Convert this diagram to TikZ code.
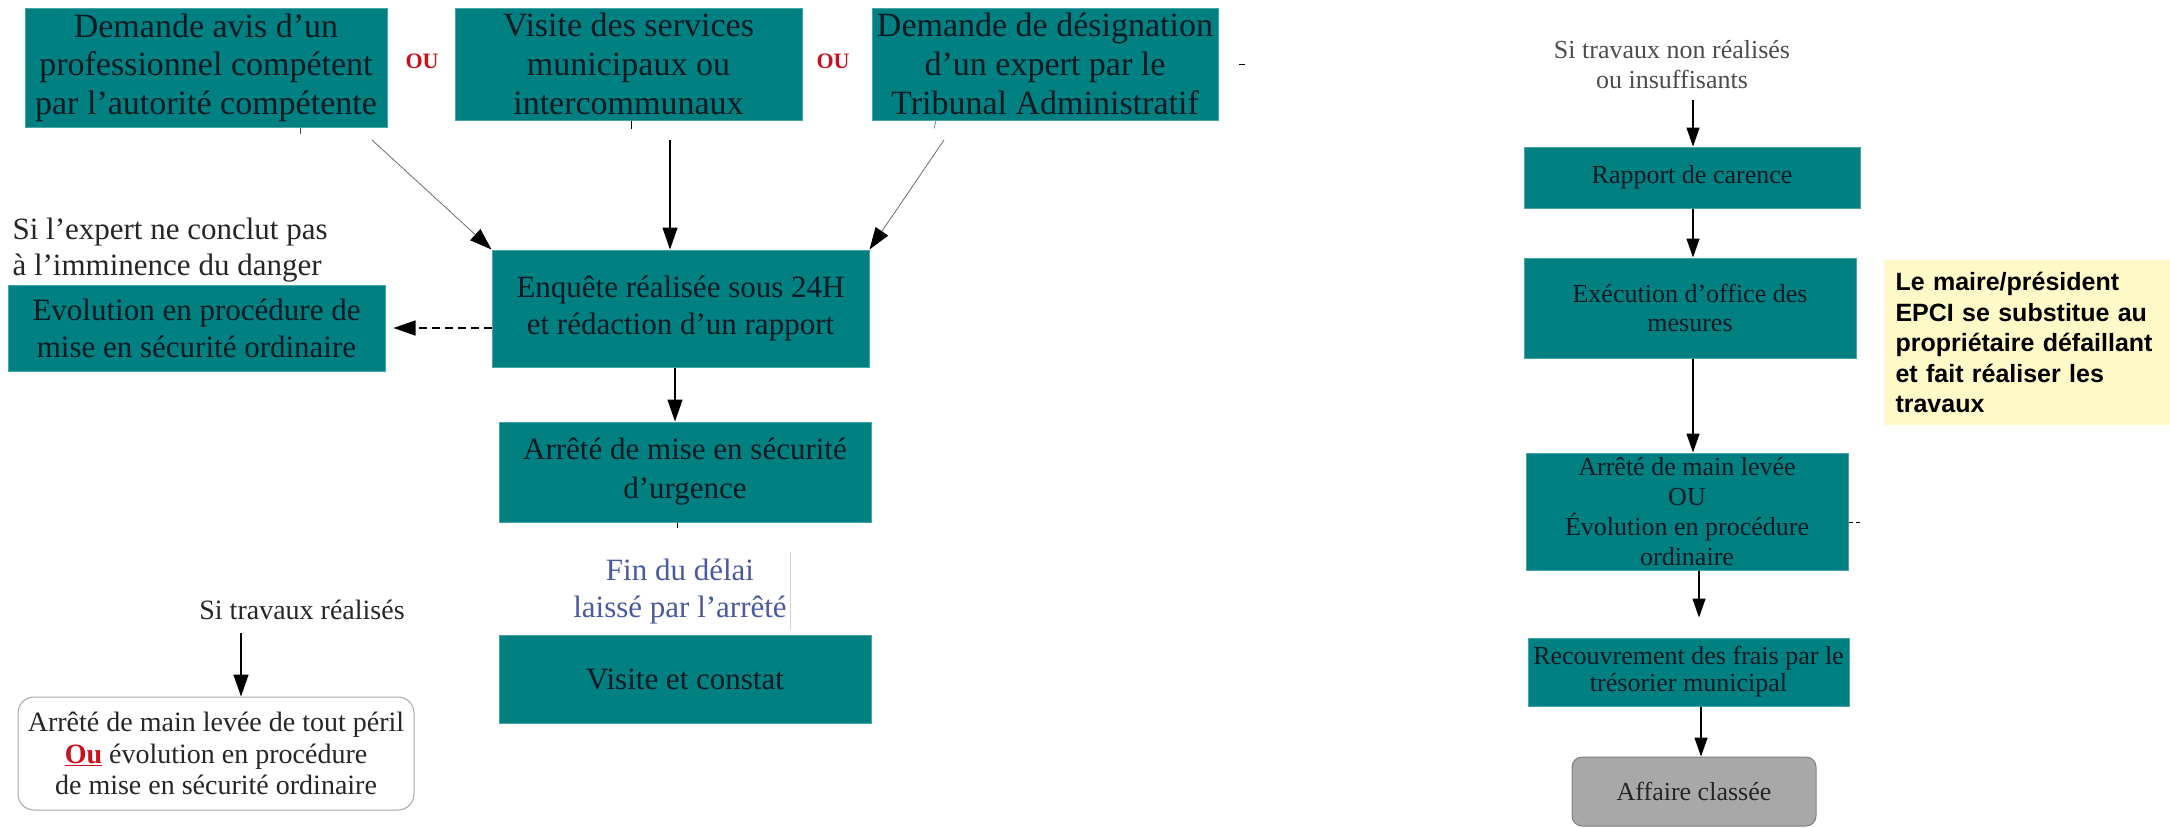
\documentclass[tikz,border=0pt]{standalone}
\usepackage{fontspec}
\setmainfont{Liberation Serif}
\newfontfamily\arialfam{Liberation Sans}
\usetikzlibrary{arrows.meta}
\definecolor{teal1}{RGB}{0,128,128}
\definecolor{tealedge}{RGB}{70,165,165}
\definecolor{boxtext}{RGB}{12,26,36}
\definecolor{ourd}{RGB}{200,16,30}
\definecolor{finblue}{RGB}{75,90,158}
\definecolor{yelfill}{RGB}{255,249,200}
\definecolor{affgrey}{RGB}{168,168,168}
\newcommand{\fsz}[2]{\fontsize{#1}{#2}\selectfont}
\begin{document}
\begin{tikzpicture}[x=1pt,y=-1pt,
  tbox/.style={fill=teal1, draw=tealedge, line width=1pt, text=boxtext, align=center, inner sep=0pt},
  arr/.style={-{Triangle[length=22pt,width=15pt]}, line width=1.4pt, black},
  arrs/.style={-{Triangle[length=19pt,width=13pt]}, line width=1.3pt, black},
  diag/.style={-{Triangle[length=22pt,width=15pt,color=black]}, line width=0.8pt, draw=gray!85!black},
  lbl/.style={text=black!85, align=center}]
\useasboundingbox (0,0) rectangle (2170,827);

% top row
\node[tbox, minimum width=362pt, minimum height=119pt, font={\fsz{34}{38.5}}] (b1) at (206,67.5) {Demande avis d’un\\professionnel compétent\\par l’autorité compétente};
\node[text=ourd, font={\bfseries\fsz{22}{24}}] (ou1) at (422,61) {OU};
\node[tbox, minimum width=347pt, minimum height=112pt, font={\fsz{34}{39}}] (b2) at (628.5,64) {Visite des services\\municipaux ou\\intercommunaux};
\node[text=ourd, font={\bfseries\fsz{22}{24}}] (ou2) at (833,61) {OU};
\node[tbox, minimum width=346pt, minimum height=112pt, font={\fsz{34}{39}}] (b3) at (1045,64) {Demande de désignation\\d’un expert par le\\Tribunal Administratif};

% middle
\node[tbox, minimum width=377pt, minimum height=117pt, font={\fsz{31}{37}}] (enq) at (680.5,308.5) {Enquête réalisée sous 24H\\et rédaction d’un rapport};
\node[tbox, minimum width=377pt, minimum height=86pt, font={\fsz{31}{37}}] (evo) at (196.5,328) {Evolution en procédure de\\mise en sécurité ordinaire};
\node[anchor=west, align=left, text=black!85, font={\fsz{31}{36}}] (exp) at (9,250) {Si l’expert ne conclut pas\\à l’imminence du danger};
\node[tbox, minimum width=372pt, minimum height=100pt, font={\fsz{31}{39}}] (urg) at (685,472) {Arrêté de mise en sécurité\\d’urgence};
\node[text=finblue, align=center, font={\fsz{31}{37}}] (fin) at (680,591.5) {Fin du délai\\laissé par l’arrêté};
\node[tbox, minimum width=372pt, minimum height=88pt, font={\fsz{31}{37}}] (vis) at (685,679) {Visite et constat};
\node[lbl, font={\fsz{28}{32}}] (sitr) at (302,610) {Si travaux réalisés};
\node[draw=gray!70, rounded corners=16pt, fill=white, line width=1pt, align=center, minimum width=396pt, minimum height=113pt, inner sep=0pt, text=black!85, font={\fsz{28}{31.5}}] (mlev) at (216,753.5) {Arrêté de main levée de tout péril\\\textcolor{ourd}{\underline{\textbf{Ou}}} évolution en procédure\\de mise en sécurité ordinaire};

% right column
\node[align=center, text=black!70, font={\fsz{26}{30}}] (sinr) at (1672,65) {Si travaux non réalisés\\ou insuffisants};
\node[tbox, minimum width=336pt, minimum height=61pt, font={\fsz{26}{29}}] (rap) at (1692,177.5) {Rapport de carence};
\node[tbox, minimum width=332pt, minimum height=100pt, font={\fsz{26}{29}}] (exe) at (1690,308) {Exécution d’office des\\mesures};
\node[tbox, minimum width=322pt, minimum height=117pt, font={\fsz{26}{30}}] (aml) at (1687,511.5) {Arrêté de main levée\\OU\\Évolution en procédure\\ordinaire};
\node[tbox, minimum width=321pt, minimum height=68pt, font={\fsz{26}{27}}] (rec) at (1688.5,672) {Recouvrement des frais par le\\trésorier municipal};
\node[fill=affgrey, draw=gray, line width=1pt, rounded corners=10pt, minimum width=244pt, minimum height=69pt, inner sep=0pt, text=black!85, font={\fsz{26}{30}}] (aff) at (1694,791.5) {Affaire classée};
\node[fill=yelfill, text width=262pt, inner xsep=12pt, inner ysep=0pt, minimum height=165pt, align=left, font={\arialfam\bfseries\fsz{25}{30.5}}] (yel) at (2026.5,342.5) {Le maire/président\\EPCI se substitue au\\propriétaire défaillant\\et fait réaliser les\\travaux};

% connectors
\coordinate (c1) at (372,140);
\coordinate (c2) at (670,140);
\coordinate (c3) at (944,140);
\draw[diag] (c1) -- (enq.north west);
\draw[arr] (c2) -- (c2 |- enq.north);
\draw[diag] (c3) -- (enq.north east);
\draw[line width=0.8pt, gray!60!black] ([xshift=94pt]b1.south) -- ++(0,6);
\draw[line width=1pt] ([xshift=2.5pt]b2.south) -- ++(0,8);
\draw[line width=0.8pt, gray] ([xshift=-109pt]b3.south) -- ++(-2,8);
\draw[line width=1pt] ([xshift=20pt]b3.east) -- ++(6,0);

\draw[arr, dash pattern=on 8pt off 5pt] (enq.west |- evo.east) -- ([xshift=8pt]evo.east);
\coordinate (e1) at ([xshift=-5.5pt]enq.south);
\draw[arr] (e1) -- (e1 |- urg.north);
\draw[line width=1pt] ([xshift=-8pt]urg.south) -- ++(0,5);
\draw[gray!35, line width=1pt] ([xshift=110pt,yshift=39.5pt]fin.center) -- ++(0,78);
\coordinate (s1) at (241,633);
\draw[arr] (s1) -- (s1 |- mlev.north);

\coordinate (r0) at (1693,100);
\draw[arrs] (r0) -- (r0 |- rap.north);
\draw[arrs] (r0 |- rap.south) -- (r0 |- exe.north);
\draw[arrs] (r0 |- exe.south) -- (r0 |- aml.north);
\coordinate (r2) at ([xshift=12pt]aml.south);
\coordinate (r3) at ([yshift=20pt]rec.north);
\draw[arrs] (r2) -- (r2 |- r3);
\coordinate (r4) at ([xshift=12.5pt]rec.south);
\draw[arrs] (r4) -- (r4 |- aff.north);
\draw[line width=1pt, dash pattern=on 4pt off 3pt] ([yshift=-10.5pt]aml.east) -- ++(11,0);
\end{tikzpicture}
\end{document}
